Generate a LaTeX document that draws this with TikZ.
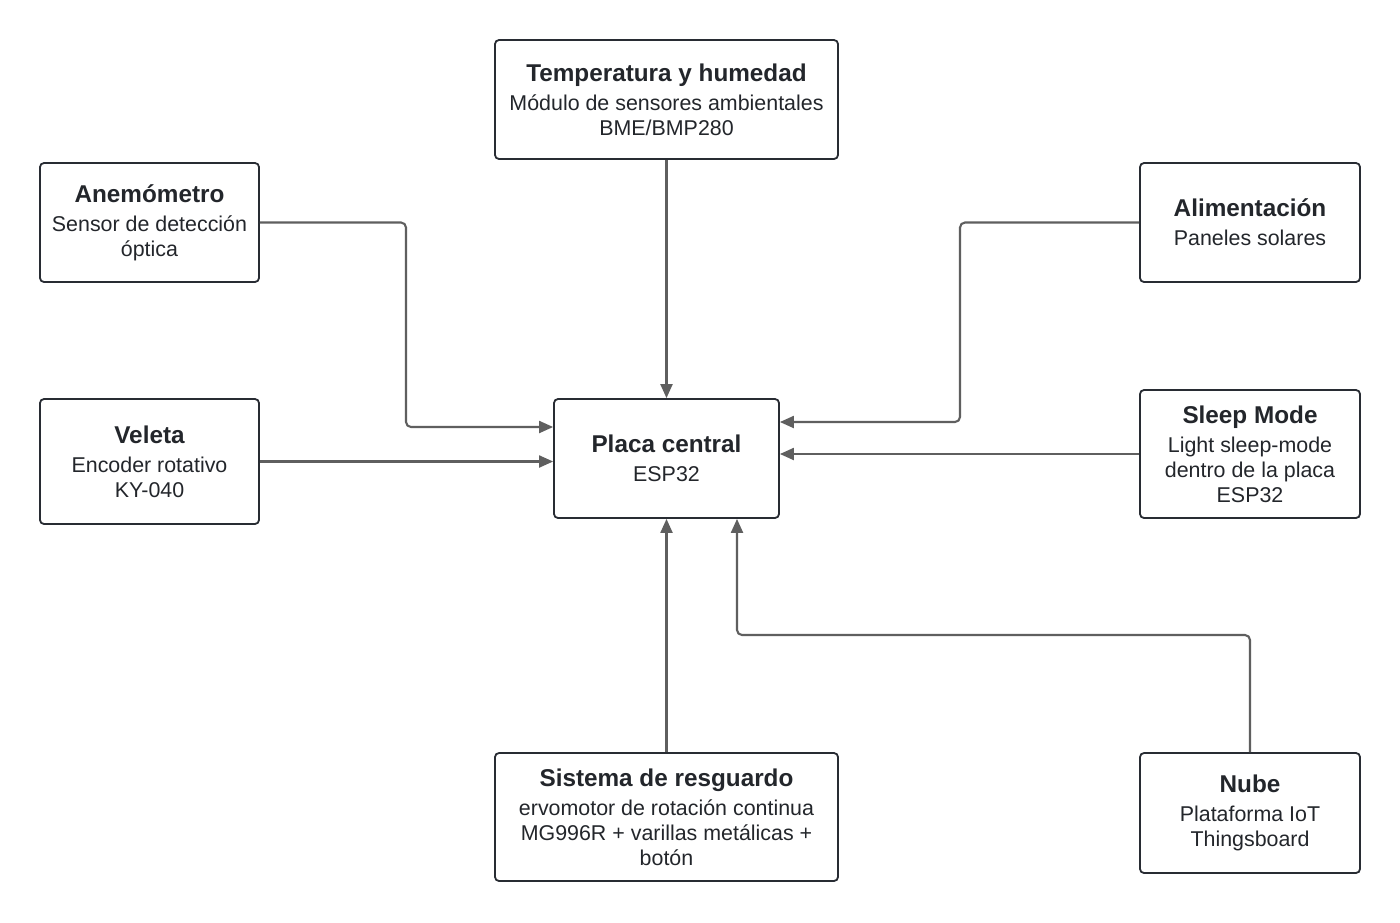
\documentclass[tikz,border=0pt]{standalone}
\usepackage{fontspec}
\setmainfont{Liberation Sans}
\usetikzlibrary{arrows.meta}
\definecolor{boxline}{HTML}{282C33}
\definecolor{txt}{HTML}{23262B}
\definecolor{conncol}{HTML}{5F5F5F}
\tikzset{
  blk/.style={draw=boxline, line width=1.8pt, rounded corners=4pt, fill=white,
    align=center, text=txt, inner sep=0pt,
    font=\fontsize{21.4}{25}\selectfont},
  conn/.style={draw=conncol, line width=2.1pt, rounded corners=5pt,
    -{Triangle[length=14pt,width=12pt]}},
}
\newcommand{\ttl}[1]{{\bfseries\fontsize{24.3}{25}\selectfont #1}\\[4pt]}
\begin{document}
\begin{tikzpicture}[x=1pt,y=-1pt]
\useasboundingbox[fill=white] (0,0) rectangle (1400,922);
\node[blk, minimum width=343pt, minimum height=119pt] (temp) at (666.5,99.5)
  {\ttl{Temperatura y humedad}Módulo de sensores ambientales\\BME/BMP280};
\node[blk, minimum width=219pt, minimum height=119pt] (anem) at (149.5,222.5)
  {\ttl{Anemómetro}Sensor de detección\\óptica};
\node[blk, minimum width=220pt, minimum height=119pt] (alim) at (1250,222.5)
  {\ttl{Alimentación}Paneles solares};
\node[blk, minimum width=219pt, minimum height=125pt] (vel) at (149.5,461.5)
  {\ttl{Veleta}Encoder rotativo\\KY-040};
\node[blk, minimum width=225pt, minimum height=119pt] (placa) at (666.5,458.5)
  {\ttl{Placa central}ESP32};
\node[blk, minimum width=220pt, minimum height=128pt] (sleep) at (1250,454)
  {\ttl{Sleep Mode}Light sleep-mode\\dentro de la placa\\ESP32};
\node[blk, minimum width=343pt, minimum height=128pt] (sist) at (666.5,817)
  {\ttl{Sistema de resguardo}ervomotor de rotación continua\\MG996R + varillas metálicas +\\botón};
\node[blk, minimum width=220pt, minimum height=120pt] (nube) at (1250,813)
  {\ttl{Nube}Plataforma IoT\\Thingsboard};
\coordinate (a1) at (406,222.5);
\coordinate (a2) at (406,427);
\coordinate (b1) at (960,222.5);
\coordinate (b2) at (960,422);
\coordinate (n1) at (1250,635);
\coordinate (n2) at (737,635);
\draw[conn] (temp.south) -- (placa.north);
\draw[conn] (anem.east) -- (a1) -- (a2) -- (placa.west |- a2);
\draw[conn] (vel.east) -- (placa.west |- vel.east);
\draw[conn] (alim.west) -- (b1) -- (b2) -- (placa.east |- b2);
\draw[conn] (sleep.west) -- (placa.east |- sleep.west);
\draw[conn] (sist.north) -- (placa.south);
\draw[conn] (nube.north) -- (n1) -- (n2) -- (placa.south -| n2);
\end{tikzpicture}
\end{document}
